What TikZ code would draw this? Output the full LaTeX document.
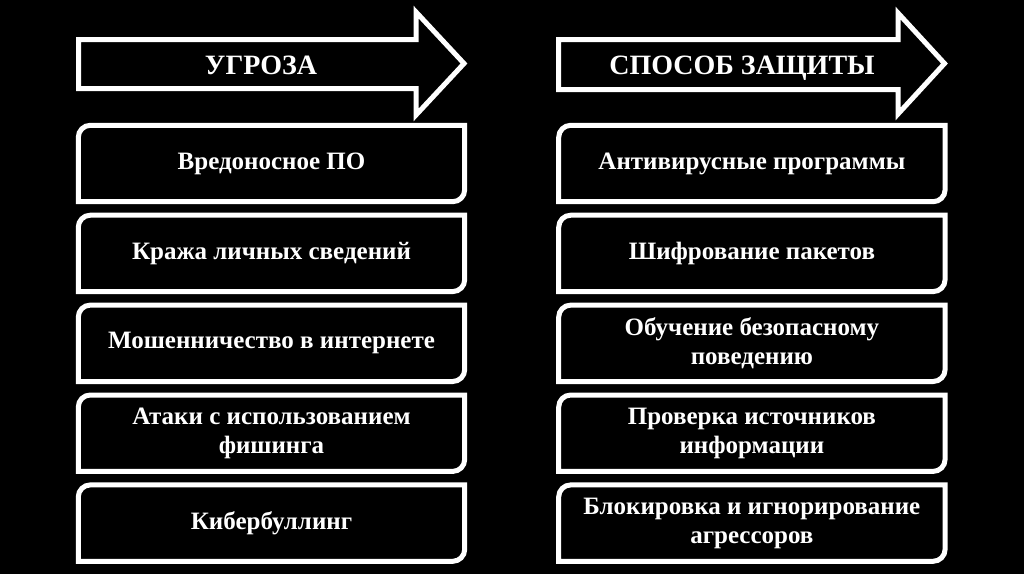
\documentclass[tikz,border=0pt]{standalone}
\usepackage{fontspec}
\setmainfont{Liberation Serif}
\usetikzlibrary{positioning,calc}
\tikzset{
  frameln/.style={draw=white, line width=5pt, line join=miter},
  boxtxt/.style={text=white, font=\bfseries\fontsize{25}{29}\selectfont, align=center,
    minimum width=386pt, minimum height=76pt, inner sep=0pt},
  headtxt/.style={text=white, font=\bfseries\fontsize{28}{32}\selectfont, inner sep=0pt, anchor=base},
}
\newcommand{\cornerbox}[1]{%
  \draw[frameln] (#1.south west) -- ([yshift=-12pt]#1.north west)
    arc[start angle=180, end angle=90, radius=12pt] -- (#1.north east)
    -- ([yshift=12pt]#1.south east)
    arc[start angle=0, end angle=-90, radius=12pt] -- cycle;
}

\begin{document}
\begin{tikzpicture}[x=1pt, y=1pt]
    % Background
    \fill[black] (0,0) rectangle (1024,-574);
    \useasboundingbox (0,0) rectangle (1024,-574);
    % Header arrows
    \draw[frameln] (78.5,-39.5) -- (416,-39.5) -- (416,-12) -- (464,-63.5)
      -- (416,-115) -- (416,-88.5) -- (78.5,-88.5) -- cycle;
    \draw[frameln] (558.5,-39.5) -- (898,-39.5) -- (898,-13) -- (944.5,-63.5)
      -- (898,-114) -- (898,-89.5) -- (558.5,-89.5) -- cycle;
    \node[headtxt] (hdrL) at (261,-74) {УГРОЗА};
    \node[headtxt] (hdrR) at (742,-74) {СПОСОБ ЗАЩИТЫ};
    % Threats
    \node[boxtxt] (thr1) at (271.5,-163.5) {Вредоносное ПО};
    \node[boxtxt, below=13.5pt of thr1] (thr2) {Кража личных сведений};
    \node[boxtxt, below=13.5pt of thr2] (thr3) {Мошенничество в интернете};
    \node[boxtxt, below=13.5pt of thr3] (thr4) {Атаки с использованием\\фишинга};
    \node[boxtxt, below=13.5pt of thr4] (thr5) {Кибербуллинг};
    % Protection
    \node[boxtxt, right=94pt of thr1] (def1) {Антивирусные программы};
    \node[boxtxt, right=94pt of thr2] (def2) {Шифрование пакетов};
    \node[boxtxt, right=94pt of thr3] (def3) {Обучение безопасному\\поведению};
    \node[boxtxt, right=94pt of thr4] (def4) {Проверка источников\\информации};
    \node[boxtxt, right=94pt of thr5] (def5) {Блокировка и игнорирование\\агрессоров};
    % Frames
    \foreach \b in {thr1,thr2,thr3,thr4,thr5,def1,def2,def3,def4,def5}{
      \cornerbox{\b}
    }
  \end{tikzpicture}
\end{document}
